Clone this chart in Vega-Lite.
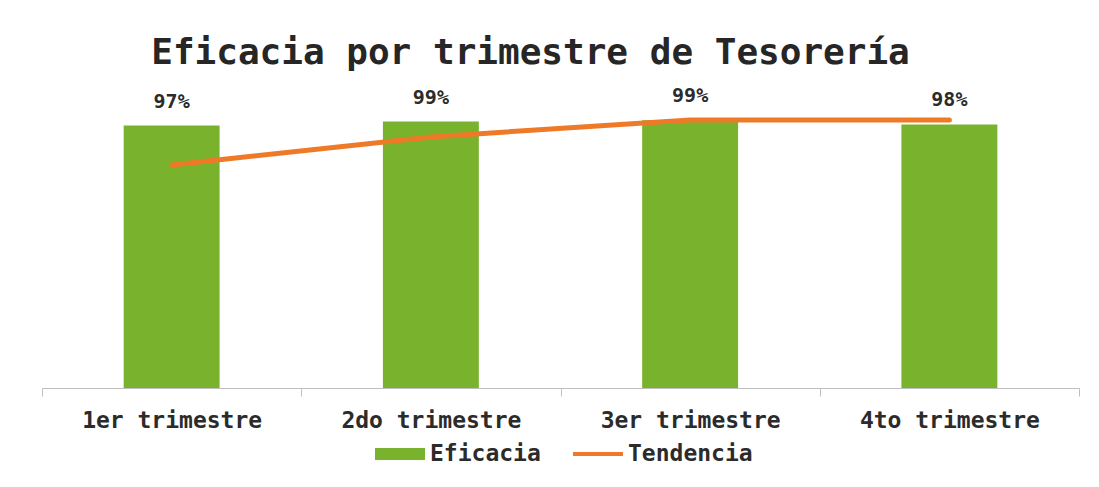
{
  "$schema": "https://vega.github.io/schema/vega-lite/v6.json",
  "width": 1037,
  "height": 270,
  "autosize": {"type": "none"},
  "padding": {"left": 42, "top": 118, "right": 20, "bottom": 99},
  "background": "white",
  "title": {
    "text": "Eficacia por trimestre de Tesorería",
    "font": "DejaVu Sans Mono",
    "fontSize": 36,
    "fontWeight": "bold",
    "color": "#262626",
    "anchor": "middle",
    "dx": -30,
    "offset": 14
  },
  "data": {
    "values": [
      {"trimestre": "1er trimestre", "eficacia": 0.972, "tendencia": 0.826},
      {"trimestre": "2do trimestre", "eficacia": 0.987, "tendencia": 0.930},
      {"trimestre": "3er trimestre", "eficacia": 0.992, "tendencia": 0.993},
      {"trimestre": "4to trimestre", "eficacia": 0.976, "tendencia": 0.993}
    ]
  },
  "encoding": {
    "x": {
      "field": "trimestre",
      "type": "nominal",
      "sort": null,
      "scale": {"paddingInner": 0, "paddingOuter": 0},
      "axis": {
        "title": null,
        "labelAngle": 0,
        "labelLimit": 0,
        "domainColor": "#bfbfbf",
        "tickColor": "#bfbfbf",
        "tickSize": 8,
        "tickBand": "extent",
        "labelFont": "DejaVu Sans Mono",
        "labelFontWeight": "bold",
        "labelFontSize": 23,
        "labelColor": "#2b2b2b",
        "labelPadding": 13
      }
    }
  },
  "layer": [
    {
      "mark": {"type": "bar", "width": {"band": 0.37}},
      "encoding": {
        "y": {"field": "eficacia", "type": "quantitative", "scale": {"domain": [0, 1]}, "axis": null},
        "color": {
          "datum": "Eficacia",
          "scale": {"domain": ["Eficacia", "Tendencia"], "range": ["#79b22d", "#ee7a27"]},
          "legend": {
            "orient": "none",
            "legendX": 333,
            "legendY": 311,
            "direction": "horizontal",
            "title": null,
            "symbolSize": 2500,
            "symbolStrokeWidth": 0,
            "labelFont": "DejaVu Sans Mono",
            "labelFontWeight": "bold",
            "labelFontSize": 23,
            "labelColor": "#2b2b2b",
            "labelOffset": 5,
            "columnPadding": 32,
            "labelLimit": 0,
            "encode": {
              "symbols": {
                "update": {
                  "shape": {"signal": "datum.value === 'Eficacia' ? 'M-1,-0.24H1V0.24H-1Z' : 'M-1,-0.08H1V0.08H-1Z'"},
                  "fill": {"signal": "datum.value === 'Eficacia' ? '#79b22d' : '#ee7a27'"},
                  "strokeWidth": {"value": 0},
                  "opacity": {"value": 1}
                }
              }
            }
          }
        }
      }
    },
    {
      "mark": {"type": "line", "strokeWidth": 5, "strokeCap": "round"},
      "encoding": {
        "y": {"field": "tendencia", "type": "quantitative"},
        "color": {"datum": "Tendencia"}
      }
    },
    {
      "mark": {
        "type": "text",
        "dy": -18,
        "baseline": "alphabetic",
        "align": "center",
        "font": "DejaVu Sans Mono",
        "fontSize": 20,
        "fontWeight": "bold",
        "color": "#2b2b2b"
      },
      "encoding": {
        "y": {"field": "eficacia", "type": "quantitative"},
        "text": {"field": "eficacia", "type": "quantitative", "format": ".0%"}
      }
    }
  ],
  "config": {"view": {"stroke": null}}
}
